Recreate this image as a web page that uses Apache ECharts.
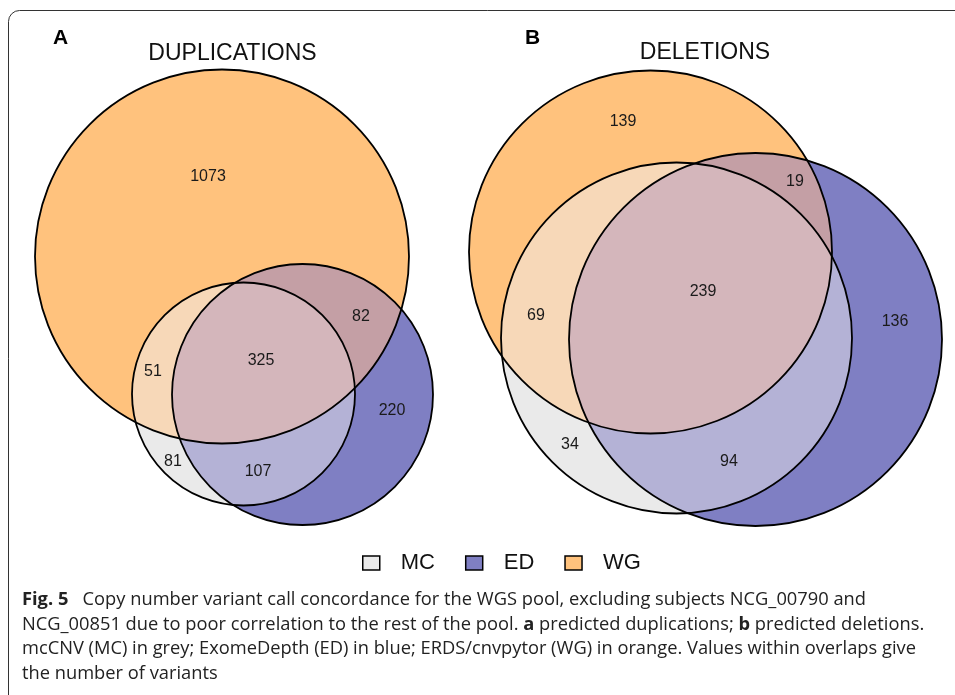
<!DOCTYPE html>
<html>
<head>
<meta charset="utf-8">
<title>CNV call concordance</title>
<script src="https://cdn.jsdelivr.net/npm/echarts@6/dist/echarts.min.js"></script>
<style>
  html, body { margin: 0; padding: 0; background: #ffffff; }
  #chart { width: 955px; height: 695px; }
</style>
</head>
<body>
<div id="chart"></div>
<script>
// Callers (sets), in drawing order
const sets = ['WG', 'ED', 'MC'];
const legendOrder = ['MC', 'ED', 'WG'];

// Venn layout, one circle per caller: [centre x, centre y, radius] in layout units
const dupCircles = [[20.2, 27.35, 18.7], [28.25, 13.55, 13.05], [22.35, 13.6, 11.15]];
const delCircles = [[19.05, 27.8, 18.15], [29.55, 19.05, 18.65], [21.65, 19.2, 17.55]];

// Variant counts per Venn region
const regions = ['WG', 'ED', 'MC', 'WG&ED', 'WG&MC', 'ED&MC', 'WG&ED&MC'];
const dupCounts = [1073, 220, 81, 82, 51, 107, 325];
const delCounts = [139, 136, 34, 19, 69, 94, 239];

// Where each region's count is written, layout units
const dupLabelAt = [[18.8, 35.3], [37.2, 11.9], [15.3, 6.8], [34.1, 21.3], [13.3, 15.8], [23.8, 5.8], [24.1, 16.9]];
const delLabelAt = [[16.3, 40.8], [43.5, 20.8], [11.0, 8.5], [33.5, 34.8], [7.6, 21.4], [26.9, 6.8], [24.3, 23.8]];

const setColors = { WG: '#FFC27D', ED: '#7F7FC3', MC: '#EAEAEA' };
const overlapColors = {
  'WG&ED': '#C49FA5',
  'WG&MC': '#F7D8B8',
  'ED&MC': '#B4B2D6',
  'WG&ED&MC': '#D4B6BB'
};

const labelFont = 'Liberation Sans, Arial, sans-serif';
const captionFont = 'Open Sans, sans-serif';

function toPixel(api, c) {
  const p = api.coord([c[0], c[1]]);
  const s = api.size([c[2], c[2]]);
  return { cx: p[0], cy: p[1], r: s[0] };
}

// Fill of one caller's circle, plus its overlaps with the callers drawn before it
function setRenderer(circles, k) {
  return function (params, api) {
    const shapes = circles.map(c => toPixel(api, c));
    const own = shapes[k];
    const children = [{ type: 'circle', shape: own, style: { fill: setColors[sets[k]] } }];
    for (let j = 0; j < k; j++) {
      children.push({
        type: 'circle',
        shape: own,
        clipPath: { type: 'circle', shape: shapes[j] },
        style: { fill: overlapColors[sets[j] + '&' + sets[k]] }
      });
    }
    if (k === sets.length - 1) {
      children.push({
        type: 'group',
        clipPath: { type: 'circle', shape: shapes[0] },
        children: [{
          type: 'circle',
          shape: shapes[1],
          clipPath: { type: 'circle', shape: own },
          style: { fill: overlapColors['WG&ED&MC'] }
        }]
      });
    }
    return { type: 'group', children };
  };
}

function outlineRenderer(params, api) {
  const p = api.coord([api.value(0), api.value(1)]);
  const r = api.size([api.value(2), 0])[0];
  return {
    type: 'circle',
    shape: { cx: p[0], cy: p[1], r },
    style: { fill: 'none', stroke: '#000', lineWidth: 1.8 }
  };
}

function countRenderer(params, api) {
  const p = api.coord([api.value(0), api.value(1)]);
  return {
    type: 'text',
    x: p[0],
    y: p[1],
    style: {
      text: String(api.value(2)),
      font: '16px ' + labelFont,
      fill: '#1a1a1a',
      align: 'center',
      verticalAlign: 'middle'
    }
  };
}

function panelSeries(circles, counts, labelAt, gridIndex) {
  const out = sets.map((name, k) => ({
    type: 'custom',
    name,
    xAxisIndex: gridIndex,
    yAxisIndex: gridIndex,
    itemStyle: { color: setColors[name] },
    silent: true,
    clip: false,
    renderItem: setRenderer(circles, k),
    encode: { x: 0, y: 1 },
    data: [circles[k]]
  }));
  out.push({
    type: 'custom',
    name: 'outline',
    xAxisIndex: gridIndex,
    yAxisIndex: gridIndex,
    silent: true,
    clip: false,
    z: 5,
    renderItem: outlineRenderer,
    encode: { x: 0, y: 1 },
    data: circles
  });
  out.push({
    type: 'custom',
    name: 'counts',
    xAxisIndex: gridIndex,
    yAxisIndex: gridIndex,
    silent: true,
    clip: false,
    z: 6,
    renderItem: countRenderer,
    encode: { x: 0, y: 1 },
    data: labelAt.map((p, i) => [p[0], p[1], counts[i]])
  });
  return out;
}

function hiddenAxis(max) {
  return { type: 'value', min: 0, max, show: false };
}

const chart = echarts.init(document.getElementById('chart'), null, { renderer: 'canvas' });

const captionLines = [
  '{b|Fig. 5}   Copy number variant call concordance for the WGS pool, excluding subjects NCG_00790 and',
  'NCG_00851 due to poor correlation to the rest of the pool. {b|a} predicted duplications; {b|b} predicted deletions.',
  'mcCNV (MC) in grey; ExomeDepth (ED) in blue; ERDS/cnvpytor (WG) in orange. Values within overlaps give',
  'the number of variants'
];

const captionSize = 18.3;

const graphics = [
  {
    // frame with a rounded top-left corner; other edges run off the page
    type: 'rect',
    silent: true,
    shape: { x: 8.5, y: 10.5, width: 1200, height: 1000, r: [11, 0, 0, 0] },
    style: { fill: 'none', stroke: '#333', lineWidth: 1 }
  },
  { type: 'text', x: 60.5, y: 38, style: { text: 'A', font: 'bold 21px ' + labelFont, fill: '#000', align: 'center', verticalAlign: 'middle' } },
  { type: 'text', x: 532.5, y: 38, style: { text: 'B', font: 'bold 21px ' + labelFont, fill: '#000', align: 'center', verticalAlign: 'middle' } },
  { type: 'text', x: 232.5, y: 53.5, style: { text: 'DUPLICATIONS', font: '23px ' + labelFont, fill: '#111', align: 'center', verticalAlign: 'middle' } },
  { type: 'text', x: 705, y: 53, style: { text: 'DELETIONS', font: '23px ' + labelFont, fill: '#111', align: 'center', verticalAlign: 'middle' } }
].concat(captionLines.map((line, i) => ({
  type: 'text',
  x: 22,
  y: 599.5 + i * 24.8,
  style: {
    text: line,
    font: captionSize + 'px ' + captionFont,
    fill: '#222',
    align: 'left',
    verticalAlign: 'middle',
    rich: { b: { fontWeight: 'bold', fontSize: captionSize, fontFamily: captionFont, fill: '#222' } }
  }
})));

chart.setOption({
  animation: false,
  backgroundColor: '#ffffff',
  grid: [
    { left: 20, top: 60, width: 440, height: 470 },
    { left: 460, top: 60, width: 490, height: 470 }
  ],
  xAxis: [Object.assign(hiddenAxis(44), { gridIndex: 0 }), Object.assign(hiddenAxis(49), { gridIndex: 1 })],
  yAxis: [Object.assign(hiddenAxis(47), { gridIndex: 0 }), Object.assign(hiddenAxis(47), { gridIndex: 1 })],
  legend: {
    data: legendOrder,
    left: 362,
    top: 552,
    padding: 0,
    icon: 'rect',
    itemWidth: 17,
    itemHeight: 14,
    itemGap: 30,
    selectedMode: false,
    itemStyle: { borderColor: '#000', borderWidth: 1.5 },
    textStyle: { fontSize: 22, color: '#111', fontFamily: labelFont, padding: [0, 0, 0, 16] }
  },
  graphic: graphics,
  series: panelSeries(dupCircles, dupCounts, dupLabelAt, 0).concat(panelSeries(delCircles, delCounts, delLabelAt, 1))
});
</script>
</body>
</html>
